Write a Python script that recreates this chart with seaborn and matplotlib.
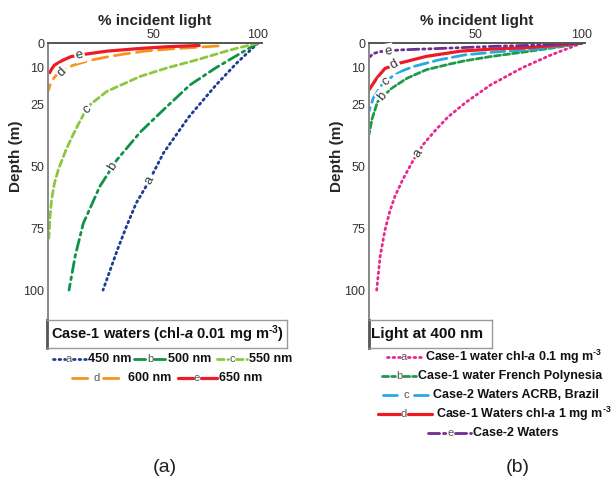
import matplotlib
matplotlib.use("Agg")
import matplotlib.pyplot as plt
import seaborn as sns
import pandas as pd

# ---------------- data ----------------
# Panel (a): Case-1 waters, chl-a 0.01 mg m-3
L_a_depth = [0, 8, 17, 30, 44.5, 56.7, 64.8, 75, 83.8, 100]
L_a_light = [100, 90, 80, 67, 55, 47.6, 42, 37, 33, 26.2]
L_b_depth = [0, 5, 10, 17, 25.8, 36, 47.4, 58, 66, 73, 86, 100]
L_b_light = [100, 90, 80, 67.6, 56.5, 44, 32.7, 24.7, 20.5, 16.8, 13, 10]
L_c_depth = [0, 3, 6.8, 10, 13.5, 19.6, 25, 28, 32, 37, 43, 51, 57, 63.5, 70, 79]
L_c_light = [100, 86, 71, 57, 44, 28, 20, 17.5, 15, 12, 8.7, 5, 3, 1.7, 1, 0.4]
L_d_depth = [1.2, 1.8, 2.5, 3.3, 4.5, 5.5, 7, 9, 11, 13, 15, 17, 19]
L_d_light = [81, 70, 57, 46, 36, 29, 20, 12, 7, 4, 2, 1, 0.3]
L_e_depth = [1.0, 1.5, 2.2, 3.3, 4.5, 5.5, 7, 9, 10.5, 12]
L_e_light = [72, 57, 44, 28, 18, 11, 7, 3, 1.8, 0.8]
L_names = ["450 nm", "500 nm", "550 nm", "600 nm", "650 nm"]

# Panel (b): light at 400 nm
R_a_depth = [0, 5, 10, 17, 24, 30, 35.5, 41, 47.4, 55, 62, 68, 75.7, 86.5, 100]
R_a_light = [100, 85, 72, 57, 45.5, 37, 31, 25.5, 20.8, 16, 12.2, 9.8, 7.5, 5.2, 3.6]
R_b_depth = [0, 1.5, 3.5, 5.5, 7.2, 8.5, 10.8, 14.2, 18.3, 23.8, 30.5, 37]
R_b_light = [100, 90, 74, 57, 45, 38, 27, 18, 10.6, 4, 1.5, 0]
R_c_depth = [0, 1.5, 2.8, 3.6, 4.8, 6.8, 9.5, 12.1, 16.9, 22.3, 27.7]
R_c_light = [100, 88, 74, 60, 45, 33, 21, 13, 6, 2, 0]
R_d_depth = [0, 1, 1.9, 2.5, 3.3, 5.4, 8.1, 10.3, 14.3, 19]
R_d_light = [100, 88, 74, 57, 43, 27, 14.6, 7.5, 3.6, 0]
R_e_depth = [0, 0.8, 1.3, 1.9, 2.4, 2.8, 3.5, 4.3, 5.9]
R_e_light = [100, 82, 60, 43, 27, 14.6, 5, 2, 0]
R_names = ["Case-1 water chl-$\\mathit{a}$ 0.1 mg m$^{\\text{-3}}$",
           "Case-1 water French Polynesia",
           "Case-2 Waters ACRB, Brazil",
           "Case-1 Waters chl-$\\mathit{a}$ 1 mg m$^{\\text{-3}}$",
           "Case-2 Waters"]

letters = ["a", "b", "c", "d", "e"]
x_ticks = [50, 100]
y_ticks = [0, 10, 25, 50, 75, 100]

# ---------------- styles ----------------
L_colors = ["#1f3a93", "#0e9447", "#8dc63f", "#f7941d", "#ed1c24"]
L_styles = [(0, (0.6, 1.4)), (0, (4, 1.6, 1, 1.6)), (0, (2.4, 1.4)),
            (0, (5.5, 2.5)), "-"]
R_colors = ["#ec268f", "#1f9a4a", "#27aae1", "#ed1c24", "#6f2c91"]
R_styles = [(0, (0.6, 1.4)), (0, (2.2, 1.1)), (0, (5, 2)), "-",
            (0, (4, 1.4, 0.8, 1.4, 0.8, 1.4))]

sns.set_theme(style="white")
plt.rcParams["font.family"] = ["Liberation Sans", "DejaVu Sans"]
plt.rcParams["mathtext.fontset"] = "custom"
plt.rcParams["mathtext.rm"] = "Liberation Sans:bold"
plt.rcParams["mathtext.it"] = "Liberation Sans:bold:italic"
plt.rcParams["mathtext.bf"] = "Liberation Sans:bold"

W, H = 614, 491
fig = plt.figure(figsize=(W / 100, H / 100), dpi=100)
fig.patch.set_facecolor("white")


def px_axes(x0, y0, x1, y1):
    return fig.add_axes([x0 / W, 1 - y1 / H, (x1 - x0) / W, (y1 - y0) / H])


axL = px_axes(48, 43, 262, 318)
axR = px_axes(369, 43, 585, 318)

L_series = [(L_a_light, L_a_depth), (L_b_light, L_b_depth), (L_c_light, L_c_depth),
            (L_d_light, L_d_depth), (L_e_light, L_e_depth)]
R_series = [(R_a_light, R_a_depth), (R_b_light, R_b_depth), (R_c_light, R_c_depth),
            (R_d_light, R_d_depth), (R_e_light, R_e_depth)]

L_lab = [(48.5, 55.5, 62), (30.8, 50, 58), (18.6, 27, 40), (6.5, 11.8, 45), (15, 4.9, 14)]
R_lab = [(22.8, 44.5, 56), (6.4, 21.7, 50), (8.0, 15.6, 40), (12, 8.9, 30), (9, 3.2, 10)]


def draw_panel(ax, series, colors, styles, labs, xmax):
    for (light, depth), col, ls, lt, (lx, ly, rot) in zip(series, colors, styles, letters, labs):
        df = pd.DataFrame({"light": light, "depth": depth})
        lw = 2.3 if ls == "-" else 2.0
        sns.lineplot(data=df, x="light", y="depth", sort=False, estimator=None,
                     color=col, linewidth=lw, linestyle=ls, ax=ax,
                     dash_capstyle="round" if ls != "-" else "butt")
        ax.text(lx, ly, lt, rotation=rot, ha="center", va="center", fontsize=9.5,
                color="#333333", zorder=5,
                bbox=dict(boxstyle="square,pad=0.12", fc="white", ec="none"))
    ax.set_xlim(0, xmax)
    ax.set_ylim(111.3, 0)
    ax.xaxis.tick_top()
    ax.xaxis.set_label_position("top")
    ax.set_xticks(x_ticks)
    ax.set_yticks(y_ticks)
    ax.tick_params(length=0, pad=1.5, labelsize=9, labelcolor="#333333")
    ax.tick_params(axis="y", pad=2.5)
    ax.set_xlabel("% incident light", fontsize=11, fontweight="bold", labelpad=3)
    ax.set_ylabel("Depth (m)", fontsize=11, fontweight="bold")
    ax.yaxis.set_label_coords(-0.118, 0.59)
    for s in ["right", "bottom"]:
        ax.spines[s].set_visible(False)
    ax.spines["top"].set_color("#555555")
    ax.spines["top"].set_linewidth(1.4)
    ax.spines["left"].set_color("#888888")
    ax.spines["left"].set_linewidth(1.4)
    ax.set_facecolor("white")


draw_panel(axL, L_series, L_colors, L_styles, L_lab, 101.9)
draw_panel(axR, R_series, R_colors, R_styles, R_lab, 101.4)

# ---------------- caption boxes ----------------
def caption(x0, x1, text, fs):
    bx = px_axes(x0, 320, x1, 348)
    bx.set_xticks([])
    bx.set_yticks([])
    for s in bx.spines.values():
        s.set_color("#999999")
        s.set_linewidth(1.0)
    bx.spines["left"].set_color("#555555")
    bx.spines["left"].set_linewidth(2.0)
    bx.text(0.015, 0.5, text, transform=bx.transAxes, ha="left", va="center",
            fontsize=fs, fontweight="bold", color="#111111")


caption(47, 287, "Case-1 waters (chl-$\\mathit{a}$ 0.01 mg m$^{\\text{-3}}$)", 10.5)
caption(369, 492, "Light at 400 nm", 11)

# ---------------- legends (overlay in pixel coordinates) ----------------
ov = fig.add_axes([0, 0, 1, 1])
ov.set_xlim(0, W)
ov.set_ylim(H, 0)
ov.axis("off")
ov.patch.set_alpha(0)


def handle(x0, x1, xc, y, col, ls, lt, gap=4):
    lw = 2.3 if ls == "-" else 2.0
    kw = dict(color=col, lw=lw, linestyle=ls)
    if ls != "-":
        kw["dash_capstyle"] = "round"
    ov.plot([x0, xc - gap], [y, y], **kw)
    ov.plot([xc + gap, x1], [y, y], **kw)
    ov.text(xc, y, lt, ha="center", va="center", fontsize=8, color="#555555")


def entry(x0, x1, xc, tx, y, col, ls, lt, name, gap=4):
    handle(x0, x1, xc, y, col, ls, lt, gap)
    ov.text(tx, y, name, ha="left", va="center", fontsize=9, fontweight="bold",
            color="#111111")


r1, r2 = 359, 378
entry(53, 86, 69, 88, r1, L_colors[0], L_styles[0], "a", L_names[0])
entry(134, 166, 150, 168, r1, L_colors[1], L_styles[1], "b", L_names[1])
entry(217, 247, 232, 249, r1, L_colors[2], L_styles[2], "c", L_names[2])
entry(72, 125, 97, 128, r2, L_colors[3], L_styles[3], "d", L_names[3], gap=6)
entry(178, 217, 197, 219, r2, L_colors[4], L_styles[4], "e", L_names[4])

ry = [357, 376, 395, 414, 433]
entry(387, 422, 404, 425, ry[0], R_colors[0], R_styles[0], "a", R_names[0])
entry(382, 416, 399, 418, ry[1], R_colors[1], R_styles[1], "b", R_names[1])
entry(383, 430, 406, 433, ry[2], R_colors[2], R_styles[2], "c", R_names[2], gap=8)
entry(378, 432, 404, 436, ry[3], R_colors[3], R_styles[3], "d", R_names[3])
entry(428, 471, 451, 473, ry[4], R_colors[4], R_styles[4], "e", R_names[4])

ov.text(165, 468, "(a)", ha="center", va="center", fontsize=14, color="#222222")
ov.text(518, 468, "(b)", ha="center", va="center", fontsize=14, color="#222222")

fig.savefig("out.png", dpi=100, facecolor="white")
